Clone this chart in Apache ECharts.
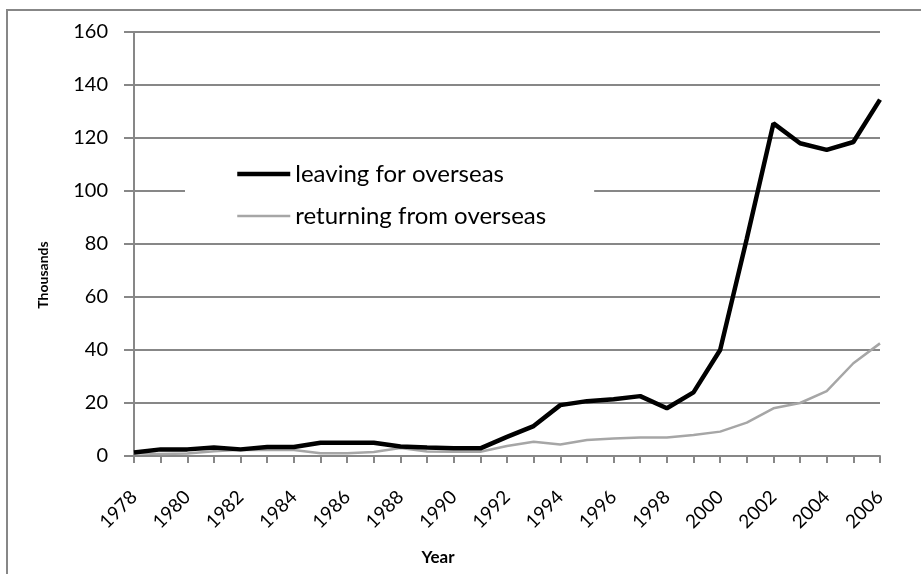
<!DOCTYPE html>
<html><head><meta charset="utf-8">
<script src="https://cdn.jsdelivr.net/npm/echarts@6/dist/echarts.min.js"></script>
<style>html,body{margin:0;padding:0;background:#fff}#c{width:921px;height:574px}</style>
</head><body><div id="c"></div>
<script>
const years = ['1978','1979','1980','1981','1982','1983','1984','1985','1986','1987','1988','1989','1990','1991','1992','1993','1994','1995','1996','1997','1998','1999','2000','2001','2002','2003','2004','2005','2006'];
const leaving = [1.3,2.5,2.5,3.2,2.5,3.4,3.4,5,5,5,3.6,3.2,2.9,2.9,7.2,11.3,19.2,20.7,21.4,22.6,18,24,40,82,125.5,118,115.5,118.5,134.5];
const returning = [1,0.8,0.9,1.8,2.4,2.3,2.3,1,1,1.5,3,1.7,1.6,1.6,3.8,5.4,4.3,6,6.6,7,7,7.9,9.2,12.6,18,20,24.5,35,42.5];
const seriesNames = ['leaving for overseas','returning from overseas'];
const yTicks = {min:0, max:160, interval:20};
const FONT = 'Lato';
const GRID = '#878787';

const chart = echarts.init(document.getElementById('c'));
chart.setOption({
  animation:false,
  backgroundColor:'#fff',
  textStyle:{fontFamily:FONT},
  graphic:[
    {type:'rect', shape:{x:7,y:10,width:940,height:600}, style:{fill:'none',stroke:GRID,lineWidth:2}, z:-1},
    {type:'text', x:438, y:558, style:{text:'Year', font:'bold 17px '+FONT, fill:'#000', align:'center', verticalAlign:'middle'}},
    {type:'text', x:43, y:275, rotation:Math.PI/2, style:{text:'Thousands', font:'bold 14px '+FONT, fill:'#000', align:'center', verticalAlign:'middle'}}
  ],
  grid:{left:134,right:41,top:32,bottom:118},
  legend:{
    orient:'vertical', left:185, top:156,
    data:[
      {name:seriesNames[0], lineStyle:{width:4.5,color:'#000'}},
      {name:seriesNames[1], lineStyle:{width:2.5,color:'#a6a6a6'}}
    ],
    itemWidth:53, itemHeight:14, itemGap:18,
    itemStyle:{opacity:0},
    backgroundColor:'#fff',
    padding:[6,48,6,50],
    textStyle:{fontSize:24,fontFamily:FONT,color:'#000'}
  },
  xAxis:{
    type:'category', data:years, boundaryGap:false,
    axisLine:{lineStyle:{color:GRID,width:2}},
    axisTick:{show:true,interval:0,length:7,lineStyle:{color:GRID,width:2}},
    axisLabel:{interval:1,rotate:45,fontSize:19,color:'#000',margin:38,fontFamily:FONT},
    splitLine:{show:false}
  },
  yAxis:{
    type:'value', min:yTicks.min, max:yTicks.max, interval:yTicks.interval,
    axisLine:{show:true,lineStyle:{color:GRID,width:2}},
    axisTick:{show:true,length:10,lineStyle:{color:GRID,width:2}},
    axisLabel:{fontSize:20,color:'#000',margin:26,fontFamily:FONT},
    splitLine:{show:true,lineStyle:{color:GRID,width:2}}
  },
  series:[
    {name:seriesNames[0], type:'line', data:leaving, symbol:'none', lineStyle:{color:'#000',width:4.5}, itemStyle:{color:'#000'}, z:3},
    {name:seriesNames[1], type:'line', data:returning, symbol:'none', lineStyle:{color:'#a6a6a6',width:2.5}, itemStyle:{color:'#a6a6a6'}, z:2}
  ]
});
</script></body></html>
